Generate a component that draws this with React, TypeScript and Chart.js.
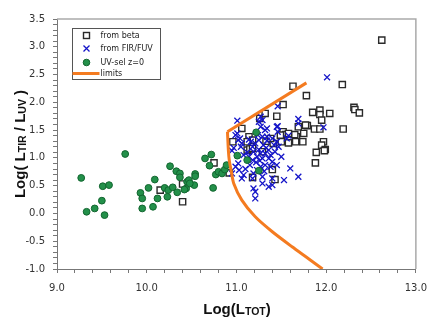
import React, { useEffect, useRef } from 'react';
import { Chart, registerables } from 'chart.js';

Chart.register(...registerables);

const TICK_FONT = "'DejaVu Sans', Verdana, sans-serif";
const TITLE_FONT = "'Liberation Sans', Arial, sans-serif";

const seriesLabels = ['from beta', 'from FIR/FUV', 'UV-sel z=0', 'limits'];

const betaPoints: [number, number][] = [
  [10.15, 0.42], [10.40, 0.53], [10.40, 0.21], [10.75, 0.91], [10.92, 0.73], [10.96, 1.29],
  [11.06, 1.53], [11.14, 1.38], [11.18, 1.32], [11.12, 1.29], [11.12, 1.14], [11.15, 1.16],
  [11.18, 1.17], [11.29, 1.11], [11.18, 0.65], [11.40, 0.79], [11.43, 0.61],
  [11.26, 1.71], [11.32, 1.80], [11.45, 1.75], [11.52, 1.96], [11.63, 2.29], [11.78, 2.12],
  [12.18, 2.32], [12.62, 3.12], [11.85, 1.82], [11.93, 1.86], [11.93, 1.78], [12.04, 1.80],
  [12.31, 1.91], [12.32, 1.87], [12.37, 1.81], [11.95, 1.68], [11.69, 1.56], [11.79, 1.58],
  [11.87, 1.52], [11.93, 1.52], [12.19, 1.52], [11.67, 1.38], [11.75, 1.44], [11.66, 1.29],
  [11.74, 1.29], [11.97, 1.29], [11.95, 1.23], [11.99, 1.15], [11.89, 1.10], [11.88, 0.91],
  [11.98, 1.13], [11.52, 1.47], [11.65, 1.42], [11.55, 1.42], [11.41, 1.26], [11.50, 1.29],
  [11.49, 1.41], [11.58, 1.44], [11.77, 1.59], [11.33, 1.30], [11.38, 1.35], [11.58, 1.27],
];

const firPoints: [number, number][] = [
  [12.01, 2.45], [11.46, 1.93], [11.01, 1.67], [11.27, 1.74], [11.25, 1.65], [11.29, 1.68],
  [11.34, 1.53], [11.46, 1.57], [11.46, 1.47], [11.69, 1.70], [11.97, 1.55], [11.32, 1.50],
  [11.24, 1.41], [11.34, 1.38], [10.99, 1.41], [11.04, 1.35], [11.01, 1.44], [10.97, 1.18],
  [11.06, 1.26], [11.58, 1.40], [10.95, 1.13], [11.05, 1.20], [11.02, 1.32],
  [11.16, 1.29], [11.18, 1.20], [11.21, 1.26], [11.25, 1.32], [11.29, 1.38], [11.30, 1.23],
  [11.34, 1.31], [11.40, 1.35], [11.42, 1.23], [11.45, 1.29], [11.47, 1.20], [11.43, 1.11],
  [11.36, 1.14], [11.32, 1.08], [11.27, 1.08], [11.23, 1.02], [11.19, 1.11], [11.18, 0.96],
  [11.14, 1.02], [11.29, 0.99], [11.36, 0.99], [11.40, 0.93], [11.32, 0.87], [11.38, 0.84],
  [11.45, 0.87], [11.27, 0.84], [11.23, 0.78], [11.19, 0.72], [11.18, 0.63], [11.08, 0.69],
  [11.06, 0.63], [11.03, 0.78], [10.99, 0.84], [10.95, 0.72], [11.29, 0.66], [11.40, 0.63],
  [11.36, 0.48], [11.40, 0.51], [11.21, 0.39], [11.21, 0.27], [11.53, 0.60], [11.60, 0.81],
  [11.69, 0.66], [11.45, 1.56], [11.27, 1.56], [11.69, 1.62], [11.56, 1.35], [11.19, 0.45],
  [11.29, 0.54], [11.02, 0.90], [11.15, 0.87], [11.12, 1.10], [11.25, 1.15], [11.22, 0.92],
  [11.33, 1.18], [11.10, 0.80], [11.14, 1.33], [11.38, 1.05], [11.08, 1.05], [11.26, 0.95],
  [11.31, 0.76], [11.50, 1.02],
];

const uvPoints: [number, number][] = [
  [9.27, 0.64], [9.33, 0.03], [9.42, 0.09], [9.50, 0.23], [9.51, 0.49], [9.58, 0.51],
  [9.53, -0.03], [9.76, 1.07], [9.93, 0.37], [9.95, 0.27], [9.95, 0.09], [10.02, 0.46],
  [10.09, 0.61], [10.07, 0.12], [10.12, 0.27], [10.20, 0.46], [10.24, 0.42], [10.23, 0.30],
  [10.26, 0.85], [10.29, 0.47], [10.33, 0.76], [10.34, 0.38], [10.37, 0.72], [10.37, 0.65],
  [10.45, 0.57], [10.47, 0.60], [10.44, 0.45], [10.53, 0.51], [10.54, 0.71], [10.54, 0.67],
  [10.48, 0.54], [10.42, 0.43], [10.65, 0.99], [10.72, 1.06], [10.70, 0.86], [10.77, 0.70],
  [10.74, 0.46], [10.80, 0.75], [10.84, 0.72], [10.87, 0.79], [10.89, 0.87], [11.22, 1.46],
  [11.01, 1.04], [11.12, 0.96], [11.25, 0.77],
];

const limitsLower: [number, number][] = [
  [11.96, -1.0], [11.80, -0.81], [11.62, -0.60], [11.40, -0.33], [11.21, -0.06],
  [11.06, 0.24], [10.97, 0.54], [10.94, 0.78], [10.92, 0.96], [10.91, 1.14], [10.90, 1.47],
];
const limitsUpper: [number, number][] = [[10.90, 1.47], [11.78, 2.35]];

const xRange = [9, 13];
const xMinorStep = 0.2;
const xMajorStep = 1;
const yRange = [-1, 3.5];
const yMinorStep = 0.1;
const yMajorStep = 0.5;

const ORANGE = '#f47b20';
const BLUE = '#1414c8';
const GREEN = '#23904a';
const GREEN_EDGE = '#12652f';
const SQUARE = '#2a2a2a';
const AXIS = '#777';

const toXY = (arr: [number, number][]) => arr.map(([x, y]) => ({ x, y }));

const isMajor = (v: number, step: number) => Math.abs(v / step - Math.round(v / step)) < 1e-6;

function buildTicks(min: number, max: number, step: number) {
  const n = Math.round((max - min) / step);
  const t: { value: number }[] = [];
  for (let i = 0; i <= n; i++) t.push({ value: +(min + i * step).toFixed(4) });
  return t;
}

type Part = { t: string; sub?: boolean };
function drawRich(ctx: CanvasRenderingContext2D, parts: Part[], cx: number, baseline: number) {
  const big = `bold 15px ${TITLE_FONT}`;
  const small = `bold 10.5px ${TITLE_FONT}`;
  let total = 0;
  const widths = parts.map((p) => {
    ctx.font = p.sub ? small : big;
    const w = ctx.measureText(p.t).width;
    total += w;
    return w;
  });
  let x = cx - total / 2;
  ctx.fillStyle = '#111';
  ctx.textBaseline = 'alphabetic';
  ctx.textAlign = 'left';
  parts.forEach((p, i) => {
    ctx.font = p.sub ? small : big;
    ctx.fillText(p.t, x, baseline + (p.sub ? 1 : 0));
    x += widths[i];
  });
}

const decorPlugin = {
  id: 'decor',
  afterDraw(chart: any) {
    const { ctx, chartArea } = chart;
    const { left, top, right, bottom } = chartArea;
    ctx.save();
    ctx.strokeStyle = '#aaa';
    ctx.lineWidth = 1.5;
    ctx.beginPath();
    ctx.moveTo(left, top);
    ctx.lineTo(right, top);
    ctx.lineTo(right, bottom);
    ctx.stroke();

    drawRich(ctx, [{ t: 'Log(L' }, { t: 'TOT', sub: true }, { t: ')' }], 237, 314);
    ctx.save();
    ctx.translate(25, 144);
    ctx.rotate(-Math.PI / 2);
    drawRich(
      ctx,
      [{ t: 'Log( L' }, { t: 'TIR', sub: true }, { t: ' / L' }, { t: 'UV', sub: true }, { t: ' )' }],
      0,
      0
    );
    ctx.restore();

    const bx = left + 15.5;
    const by = top + 9.5;
    const bw = 88;
    const bh = 51;
    ctx.fillStyle = '#fff';
    ctx.fillRect(bx, by, bw, bh);
    ctx.strokeStyle = '#555';
    ctx.lineWidth = 1;
    ctx.strokeRect(bx, by, bw, bh);
    const mx = bx + 14;
    const tx = bx + 28;
    const rows = [by + 7, by + 20, by + 34, by + 45];
    ctx.font = `8px ${TICK_FONT}`;
    ctx.textBaseline = 'middle';
    ctx.textAlign = 'left';
    const labels = chart.data.datasets.filter((d: any) => d.label).map((d: any) => d.label);
    labels.forEach((lab: string, i: number) => {
      const y = rows[i];
      if (i === 0) {
        ctx.strokeStyle = SQUARE;
        ctx.lineWidth = 1.4;
        ctx.strokeRect(mx - 3, y - 3, 6, 6);
      } else if (i === 1) {
        ctx.strokeStyle = BLUE;
        ctx.lineWidth = 1.3;
        ctx.beginPath();
        ctx.moveTo(mx - 3, y - 3);
        ctx.lineTo(mx + 3, y + 3);
        ctx.moveTo(mx + 3, y - 3);
        ctx.lineTo(mx - 3, y + 3);
        ctx.stroke();
      } else if (i === 2) {
        ctx.fillStyle = GREEN;
        ctx.strokeStyle = GREEN_EDGE;
        ctx.lineWidth = 1;
        ctx.beginPath();
        ctx.arc(mx, y, 3.3, 0, Math.PI * 2);
        ctx.fill();
        ctx.stroke();
      } else {
        ctx.strokeStyle = ORANGE;
        ctx.lineWidth = 3;
        ctx.beginPath();
        ctx.moveTo(bx, y);
        ctx.lineTo(bx + 27, y);
        ctx.stroke();
      }
      ctx.fillStyle = '#222';
      ctx.fillText(lab, tx, y);
    });
    ctx.restore();
  },
};

export default function App() {
  const ref = useRef<HTMLCanvasElement | null>(null);
  useEffect(() => {
    if (!ref.current) return;
    const chart = new Chart(ref.current, {
      type: 'scatter',
      data: {
        datasets: [
          {
            label: seriesLabels[0],
            data: toXY(betaPoints),
            pointStyle: 'rect',
            pointRadius: 4.4,
            borderColor: SQUARE,
            backgroundColor: '#fff',
            borderWidth: 1.4,
            order: 4,
          },
          {
            label: seriesLabels[1],
            data: toXY(firPoints),
            pointStyle: 'crossRot',
            pointRadius: 4.2,
            borderColor: BLUE,
            backgroundColor: BLUE,
            borderWidth: 1.3,
            order: 3,
          },
          {
            label: seriesLabels[2],
            data: toXY(uvPoints),
            pointStyle: 'circle',
            pointRadius: 3.4,
            borderColor: GREEN_EDGE,
            backgroundColor: GREEN,
            borderWidth: 1,
            order: 2,
          },
          {
            label: seriesLabels[3],
            data: toXY(limitsLower),
            showLine: true,
            pointRadius: 0,
            borderColor: ORANGE,
            borderWidth: 3,
            tension: 0.25,
            order: 1,
          } as any,
          {
            label: '',
            data: toXY(limitsUpper),
            showLine: true,
            pointRadius: 0,
            borderColor: ORANGE,
            borderWidth: 3,
            tension: 0,
            order: 0,
          } as any,
        ],
      },
      options: {
        animation: false,
        responsive: false,
        events: [],
        layout: { padding: { left: 0, top: 19, right: 18, bottom: 0 } },
        plugins: { legend: { display: false }, tooltip: { enabled: false }, title: { display: false } },
        scales: {
          x: {
            type: 'linear',
            min: xRange[0],
            max: xRange[1],
            afterBuildTicks: (s: any) => {
              s.ticks = buildTicks(xRange[0], xRange[1], xMinorStep);
            },
            afterFit: (s: any) => {
              s.height = 58;
            },
            ticks: {
              autoSkip: false,
              maxRotation: 0,
              padding: 9,
              color: '#333',
              font: { family: TICK_FONT, size: 10 },
              callback: (v: any) => (isMajor(Number(v), xMajorStep) ? Number(v).toFixed(1) : ''),
            },
            grid: { drawOnChartArea: false, drawTicks: true, tickLength: 4, color: AXIS },
            border: { color: AXIS, width: 1 },
          },
          y: {
            type: 'linear',
            min: yRange[0],
            max: yRange[1],
            afterBuildTicks: (s: any) => {
              s.ticks = buildTicks(yRange[0], yRange[1], yMinorStep);
            },
            afterFit: (s: any) => {
              s.width = 57;
            },
            ticks: {
              autoSkip: false,
              padding: 8,
              color: '#333',
              font: { family: TICK_FONT, size: 10 },
              callback: (v: any) => (isMajor(Number(v), yMajorStep) ? Number(v).toFixed(1) : ''),
            },
            grid: { drawOnChartArea: false, drawTicks: true, tickLength: 4, color: AXIS },
            border: { color: AXIS, width: 1 },
          },
        },
      },
      plugins: [decorPlugin],
    });
    return () => chart.destroy();
  }, []);
  return (
    <div style={{ position: 'absolute', left: 0, top: 0, width: 436, height: 327 }}>
      <canvas ref={ref} width={436} height={327} style={{ display: 'block' }} />
    </div>
  );
}
